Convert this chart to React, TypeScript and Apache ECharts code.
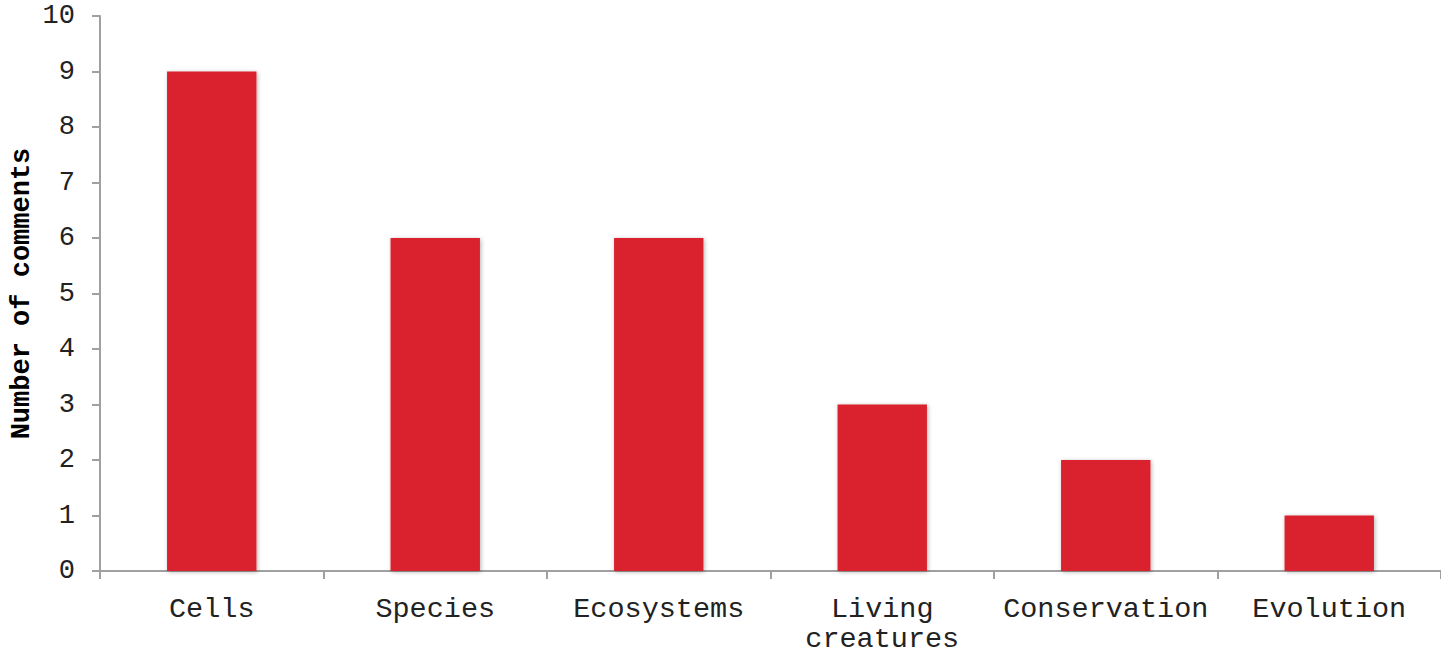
import React, { useEffect, useRef } from "react";
import * as echarts from "echarts";

const categories = ["Cells", "Species", "Ecosystems", "Living\ncreatures", "Conservation", "Evolution"];
const values = [9, 6, 6, 3, 2, 1];
const yTicks = { min: 0, max: 10, interval: 1 };
const yAxisName = "Number of comments";

export default function App() {
  const ref = useRef<HTMLDivElement>(null);
  useEffect(() => {
    const chart = echarts.init(ref.current!, null, { renderer: "svg" });
    const font = "'Liberation Mono', 'Courier New', monospace";
    chart.setOption({
      animation: false,
      backgroundColor: "#ffffff",
      grid: { left: 100, right: 0, top: 16, bottom: 84, containLabel: false, outerBoundsMode: "none" },
      xAxis: {
        type: "category",
        data: categories,
        axisLine: { lineStyle: { color: "#a0a0a0", width: 2 } },
        axisTick: { show: true, length: 8, lineStyle: { color: "#a0a0a0", width: 2 } },
        axisLabel: { fontFamily: font, fontSize: 28.5, color: "#222", margin: 23, lineHeight: 30, interval: 0 },
      },
      yAxis: {
        type: "value",
        min: yTicks.min,
        max: yTicks.max,
        interval: yTicks.interval,
        name: yAxisName,
        nameLocation: "middle",
        nameGap: 65,
        nameMoveOverlap: false,
        nameRotate: 90,
        nameTextStyle: { fontFamily: font, fontSize: 27, fontWeight: "bold", color: "#000" },
        axisLine: { show: true, lineStyle: { color: "#a0a0a0", width: 2 } },
        axisTick: { show: true, length: 8, lineStyle: { color: "#a0a0a0", width: 2 } },
        splitLine: { show: false },
        axisLabel: { fontFamily: font, fontSize: 27, color: "#222", margin: 25 },
      },
      series: [
        {
          type: "bar",
          data: values,
          barWidth: "40%",
          itemStyle: {
            color: "#d9232d",
            shadowBlur: 4,
            shadowColor: "rgba(0,0,0,0.3)",
            shadowOffsetX: 1,
            shadowOffsetY: 1,
          },
        },
      ],
    });
    return () => chart.dispose();
  }, []);
  return <div ref={ref} style={{ position: "fixed", left: 0, top: 0, width: 1441, height: 655 }} />;
}
